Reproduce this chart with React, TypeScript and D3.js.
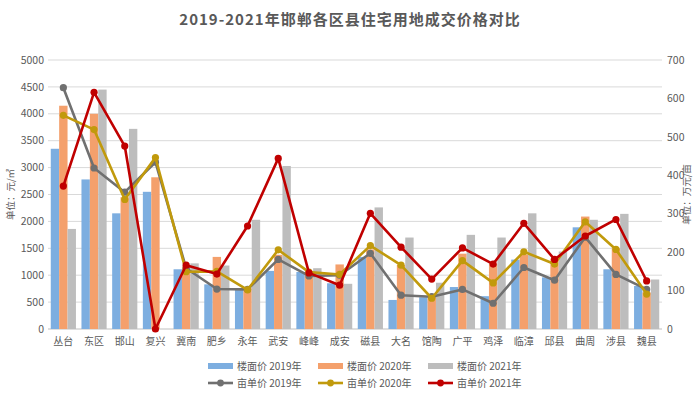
import React from 'react';
import * as d3 from 'd3';

const categories = ['丛台', '东区', '邯山', '复兴', '冀南', '肥乡', '永年', '武安', '峰峰', '成安', '磁县', '大名', '馆陶', '广平', '鸡泽', '临漳', '邱县', '曲周', '涉县', '魏县'];

// 楼面价 (元/㎡)
const floor2019 = [3350, 2780, 2150, 2550, 1110, 830, 740, 1080, 1060, 850, 1340, 540, 590, 780, 610, 1290, 960, 1890, 1110, 800];
const floor2020 = [4150, 4000, 2450, 2820, 1160, 1340, 770, 1380, 1020, 1200, 1480, 1190, 600, 1400, 1210, 1380, 1310, 2090, 1500, 680];
const floor2021 = [1860, 4450, 3720, 0, 1220, 1180, 2030, 3030, 1130, 840, 2260, 1700, 860, 1750, 1700, 2150, 1440, 2030, 2140, 920];

// 亩单价 (万元/亩)
const mu2019 = [628, 419, 356, 434, 158, 104, 103, 181, 138, 140, 197, 88, 84, 103, 67, 160, 127, 239, 142, 103];
const mu2020 = [556, 519, 337, 446, 149, 150, 102, 206, 148, 142, 217, 166, 80, 178, 120, 201, 169, 279, 207, 91];
const mu2021 = [372, 616, 476, 0, 166, 143, 268, 444, 146, 114, 301, 213, 130, 211, 169, 275, 181, 242, 285, 125];

const leftTicks = [0, 500, 1000, 1500, 2000, 2500, 3000, 3500, 4000, 4500, 5000];
const rightTicks = [0, 100, 200, 300, 400, 500, 600, 700];

const barSeries = [
  { name: '楼面价 2019年', values: floor2019, color: '#7DAEE0' },
  { name: '楼面价 2020年', values: floor2020, color: '#F4A06C' },
  { name: '楼面价 2021年', values: floor2021, color: '#BDBDBD' },
];
const lineSeries = [
  { name: '亩单价 2019年', values: mu2019, color: '#707070' },
  { name: '亩单价 2020年', values: mu2020, color: '#C19A0C' },
  { name: '亩单价 2021年', values: mu2021, color: '#C00000' },
];

const W = 700;
const H = 398;
const margin = { top: 60, right: 38, bottom: 69, left: 48 };
const textColor = '#595959';
const font = '"Noto Sans CJK SC", "Noto Sans", sans-serif';

export default function App() {
  const x = d3.scaleBand()
    .domain(categories)
    .range([margin.left, W - margin.right])
    .paddingInner(0.18)
    .paddingOuter(0.09);
  const xInner = d3.scaleBand()
    .domain(barSeries.map(s => s.name))
    .range([0, x.bandwidth()]);
  const yL = d3.scaleLinear().domain([0, 5000]).range([H - margin.bottom, margin.top]);
  const yR = d3.scaleLinear().domain([0, 700]).range([H - margin.bottom, margin.top]);

  const line = d3.line<number>()
    .x((_, i) => x(categories[i])! + x.bandwidth() / 2)
    .y(d => yR(d));

  const x0 = margin.left;
  const x1 = W - margin.right;

  return (
    <svg width={W} height={H} style={{ position: 'absolute', left: 0, top: 0, background: '#fff' }} fontFamily={font}>
      <text x={W / 2} y={25} textAnchor="middle" fontSize={15} fontWeight="bold" fill={textColor} letterSpacing={1}>
        2019-2021年邯郸各区县住宅用地成交价格对比
      </text>

      {/* gridlines */}
      {leftTicks.map(t => (
        <line key={t} x1={x0} x2={x1} y1={yL(t)} y2={yL(t)} stroke={t === 0 ? '#BFBFBF' : '#D9D9D9'} strokeWidth={1} />
      ))}

      {/* left axis */}
      {leftTicks.map(t => (
        <text key={'l' + t} x={44} y={yL(t)} dy="0.35em" textAnchor="end" fontSize={10.5} fill={textColor}>{t}</text>
      ))}
      <text transform={`translate(14,${(margin.top + H - margin.bottom) / 2}) rotate(-90)`} textAnchor="middle" fontSize={9.5} fill={textColor}>单位：元/㎡</text>

      {/* right axis */}
      {rightTicks.map(t => (
        <text key={'r' + t} x={667} y={yR(t)} dy="0.35em" textAnchor="start" fontSize={10.5} fill={textColor}>{t}</text>
      ))}
      <text transform={`translate(690,${(margin.top + H - margin.bottom) / 2}) rotate(-90)`} textAnchor="middle" fontSize={9.5} fill={textColor}>单位：万元/亩</text>

      {/* bars */}
      {barSeries.map(s => (
        <g key={s.name}>
          {s.values.map((v, i) => (
            <rect key={i}
              x={x(categories[i])! + xInner(s.name)!}
              y={yL(v)}
              width={xInner.bandwidth()}
              height={yL(0) - yL(v)}
              fill={s.color} />
          ))}
        </g>
      ))}

      {/* lines */}
      {lineSeries.map(s => (
        <g key={s.name}>
          <path d={line(s.values)!} fill="none" stroke={s.color} strokeWidth={2.6} strokeLinejoin="round" />
          {s.values.map((v, i) => (
            <circle key={i} cx={x(categories[i])! + x.bandwidth() / 2} cy={yR(v)} r={3.6} fill={s.color} />
          ))}
        </g>
      ))}

      {/* category labels */}
      {categories.map(c => (
        <text key={c} x={x(c)! + x.bandwidth() / 2} y={345} textAnchor="middle" fontSize={10} fill={textColor}>{c}</text>
      ))}

      {/* legend */}
      {barSeries.map((s, i) => (
        <g key={s.name} transform={`translate(${208 + i * 110},366)`}>
          <rect x={0} y={-3} width={25} height={6} fill={s.color} />
          <text x={29} y={0} dy="0.35em" fontSize={10} fill={textColor}>{s.name}</text>
        </g>
      ))}
      {lineSeries.map((s, i) => (
        <g key={s.name} transform={`translate(${208 + i * 110},383)`}>
          <line x1={0} x2={25} y1={0} y2={0} stroke={s.color} strokeWidth={2.6} />
          <circle cx={12.5} cy={0} r={3.4} fill={s.color} />
          <text x={29} y={0} dy="0.35em" fontSize={10} fill={textColor}>{s.name}</text>
        </g>
      ))}
    </svg>
  );
}
